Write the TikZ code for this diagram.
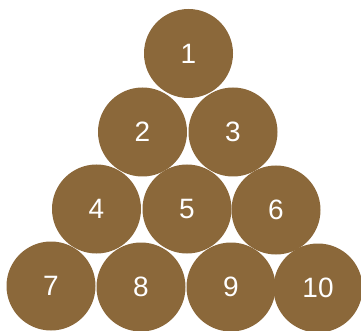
\documentclass[tikz,border=0pt]{standalone}
\usepackage{fontspec}
\setmainfont{Liberation Sans}
\definecolor{ball}{RGB}{139,104,58}
\begin{document}
\begin{tikzpicture}[x=1pt,y=-1pt,
  ball/.style={circle,fill=ball,draw=none,minimum size=89pt,inner sep=0pt,text=white,font=\fontsize{28}{28}\selectfont}]
\useasboundingbox (0,0) rectangle (361,331);
\node[ball] (b1) at (188.5,53.5) {1};
\node[ball] (b2) at (142.5,132) {2};
\node[ball] (b3) at (233,132) {3};
\node[ball] (b4) at (96.5,209) {4};
\node[ball] (b5) at (187,209) {5};
\node[ball] (b6) at (276,210) {6};
\node[ball] (b7) at (51,286) {7};
\node[ball] (b8) at (141,287) {8};
\node[ball] (b9) at (231,287) {9};
\node[ball] (b10) at (318,288) {10};
\end{tikzpicture}
\end{document}
